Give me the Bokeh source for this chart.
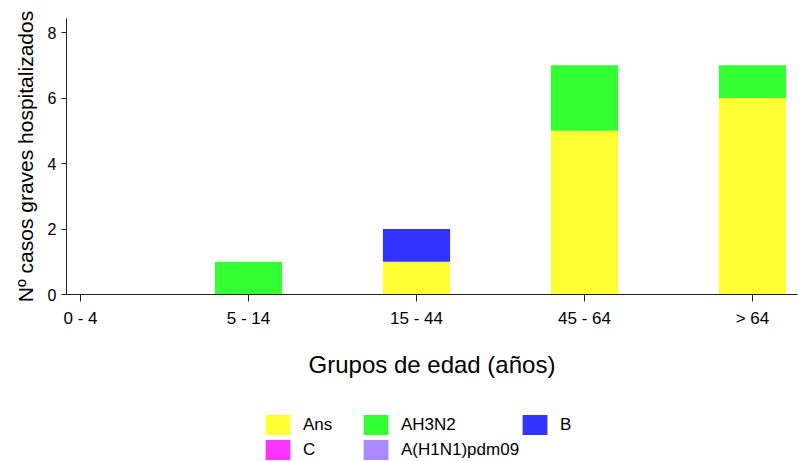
from bokeh.plotting import figure
from bokeh.layouts import column
from bokeh.models import ColumnDataSource, Range1d, FixedTicker, Legend, LegendItem
from bokeh.embed import file_html
from bokeh.resources import INLINE

# Datos: casos graves hospitalizados por grupo de edad y virus
grupos = ["0 - 4", "5 - 14", "15 - 44", "45 - 64", "> 64"]
ans = [0, 0, 1, 5, 6]
ah3n2 = [0, 1, 0, 2, 1]
b = [0, 0, 1, 0, 0]
c = [0, 0, 0, 0, 0]
h1n1 = [0, 0, 0, 0, 0]

series = ["Ans", "AH3N2", "B", "C", "A(H1N1)pdm09"]
colores = ["#FFFF33", "#33FF33", "#3333FF", "#FF33FF", "#AA88FF"]
y_ticks = [0, 2, 4, 6, 8]

FONT = "Liberation Sans"

source = ColumnDataSource(data={
    "x": list(range(len(grupos))),
    "Ans": ans,
    "AH3N2": ah3n2,
    "B": b,
    "C": c,
    "A(H1N1)pdm09": h1n1,
})

# Grafico principal
p = figure(width=803, height=405,
           x_range=Range1d(-0.0833, 4.268),
           y_range=Range1d(0, 8.43),
           toolbar_location=None,
           output_backend="svg",
           min_border_left=66, min_border_right=6,
           min_border_top=18, min_border_bottom=111)

p.outline_line_color = None
p.xgrid.visible = False
p.ygrid.visible = False

p.vbar_stack(series, x="x", width=0.4, source=source,
             fill_color=colores, line_color=None)

# Ejes
for ax in (p.xaxis[0], p.yaxis[0]):
    ax.axis_line_color = "#222222"
    ax.major_tick_line_color = "#222222"
    ax.minor_tick_line_color = None
    ax.major_tick_in = 0
    ax.major_label_text_font = FONT
    ax.major_label_text_color = "black"
    ax.axis_label_text_font = FONT
    ax.axis_label_text_font_style = "normal"
    ax.axis_label_text_color = "black"

p.xaxis.ticker = FixedTicker(ticks=list(range(len(grupos))))
p.xaxis.major_label_overrides = {i: g for i, g in enumerate(grupos)}
p.xaxis.major_label_text_font_size = "17px"
p.xaxis.major_tick_out = 7
p.xaxis.major_label_standoff = 7
p.xaxis.axis_label = "Grupos de edad (años)"
p.xaxis.axis_label_text_font_size = "24px"
p.xaxis.axis_label_standoff = 20

p.yaxis.ticker = FixedTicker(ticks=y_ticks)
p.yaxis.major_label_text_font_size = "16px"
p.yaxis.major_tick_out = 5
p.yaxis.major_label_standoff = 5
p.yaxis.axis_label = "Nº casos graves hospitalizados"
p.yaxis.axis_label_text_font_size = "21px"
p.yaxis.axis_label_standoff = 8

# Franja de leyenda: mismas series, barras fuera del rango visible
p2 = figure(width=803, height=56,
            x_range=Range1d(0, 1), y_range=Range1d(100, 101),
            x_axis_location=None, y_axis_location=None,
            toolbar_location=None, output_backend="svg",
            min_border_left=0, min_border_right=0,
            min_border_top=0, min_border_bottom=0)
p2.outline_line_color = None
p2.grid.visible = False

leg_renderers = p2.vbar_stack(series, x="x", width=0.4, source=source,
                              fill_color=colores, line_color=None)

orden = [0, 3, 1, 4, 2]
items = [LegendItem(label=series[i], renderers=[leg_renderers[i]]) for i in orden]
leg = Legend(items=items, location=(196, -1), orientation="vertical", nrows=2,
             glyph_width=31, glyph_height=25, label_height=25, label_width=57,
             label_standoff=10, spacing=0, padding=0, margin=0,
             label_text_font=FONT, label_text_font_size="17px",
             label_text_color="black",
             border_line_color=None, background_fill_alpha=0)
p2.add_layout(leg)

layout = column(p, p2)

open("out.html", "w").write(file_html(layout, INLINE))
